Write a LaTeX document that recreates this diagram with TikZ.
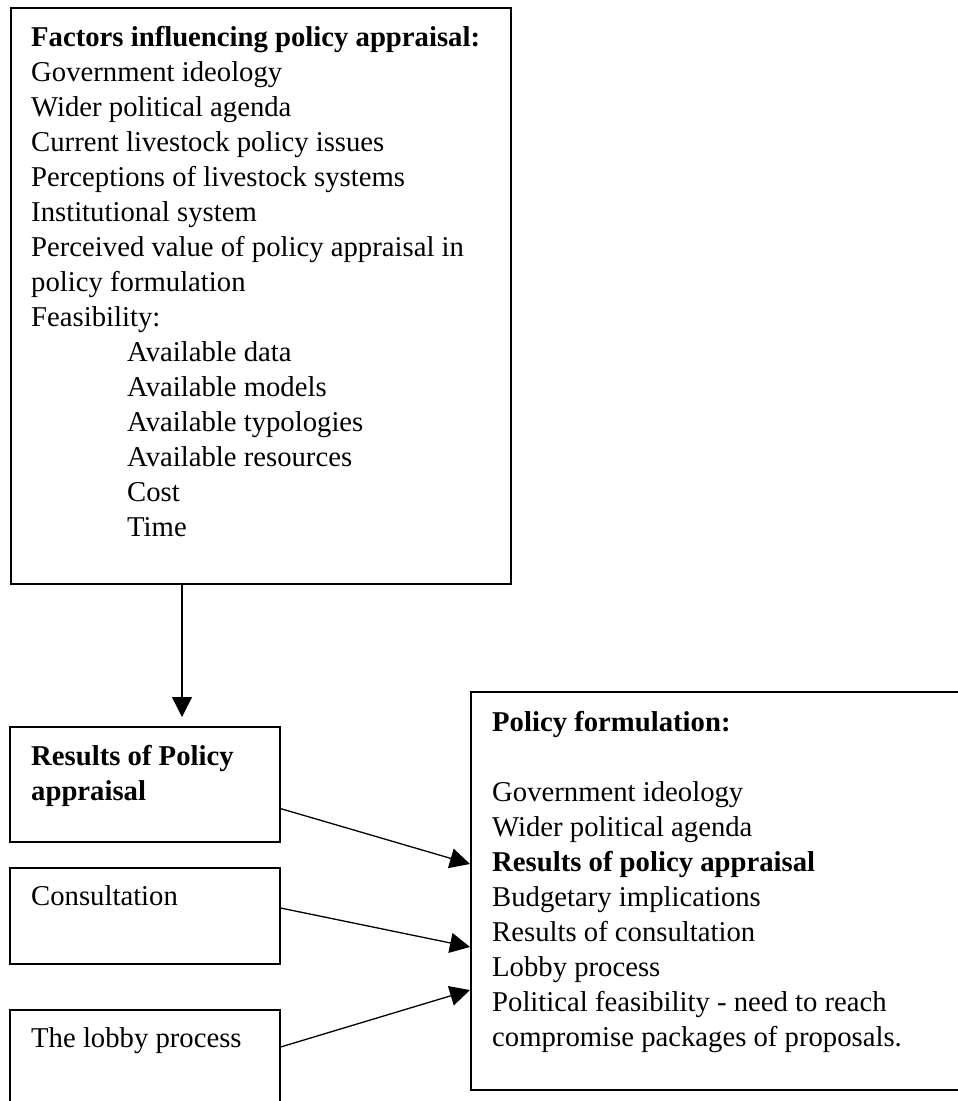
\documentclass[tikz,border=0pt]{standalone}
\usepackage{fontspec}
\setmainfont{Liberation Serif}
\usetikzlibrary{arrows.meta}
\tikzset{
  boxnode/.style={draw=black, line width=1.6pt, rectangle, anchor=north west, inner sep=0pt},
  txt/.style={anchor=base west, inner sep=0pt, font=\fontsize{28.7}{35}\selectfont},
  arr/.style={line width=1.3pt, -{Triangle[length=20pt,width=20pt]}}
}
\begin{document}
\begin{tikzpicture}[x=1pt,y=-1pt]
\clip (0,0) rectangle (958,1101);
\fill[white] (0,0) rectangle (958,1101);
% boxes
\node[boxnode, minimum width=500pt, minimum height=576pt] (top) at (10,7) {};
\node[boxnode, minimum width=270pt, minimum height=115pt] (res) at (9,726) {};
\node[boxnode, minimum width=270pt, minimum height=96pt] (con) at (9,867) {};
\node[boxnode, minimum width=270pt, minimum height=130pt] (lob) at (9,1009) {};
\node[boxnode, minimum width=520pt, minimum height=398pt] (pol) at (470,691) {};
% texts
\node[txt] (toptxt) at (31,46.5) {\begin{tabular}[t]{@{}l@{}}
\textbf{Factors influencing policy appraisal:}\\
Government ideology\\
Wider political agenda\\
Current livestock policy issues\\
Perceptions of livestock systems\\
Institutional system\\
Perceived value of policy appraisal in\\
policy formulation\\
Feasibility:\\
\hspace*{96pt}Available data\\
\hspace*{96pt}Available models\\
\hspace*{96pt}Available typologies\\
\hspace*{96pt}Available resources\\
\hspace*{96pt}Cost\\
\hspace*{96pt}Time
\end{tabular}};
\node[txt] (restxt) at (31,765.5) {\begin{tabular}[t]{@{}l@{}}
\textbf{Results of Policy}\\
\textbf{appraisal}
\end{tabular}};
\node[txt] (contxt) at (31,905) {Consultation};
\node[txt] (lobtxt) at (31,1047) {The lobby process};
\node[txt] (poltxt) at (492,731) {\begin{tabular}[t]{@{}l@{}}
\textbf{Policy formulation:}\\
\\
Government ideology\\
Wider political agenda\\
\textbf{Results of policy appraisal}\\
Budgetary implications\\
Results of consultation\\
Lobby process\\
Political feasibility - need to reach\\
compromise packages of proposals.
\end{tabular}};
% connectors
\draw[arr] ([xshift=172pt]top.south west) -- ([xshift=173pt,yshift=9pt]res.north west);
\draw[arr] ([yshift=34pt]res.south east) -- ([yshift=-173pt]pol.north west);
\draw[arr] ([yshift=-41pt]con.north east) -- ([yshift=-256pt]pol.north west);
\draw[arr] ([yshift=-38pt]lob.north east) -- ([yshift=-299pt]pol.north west);
\end{tikzpicture}
\end{document}
